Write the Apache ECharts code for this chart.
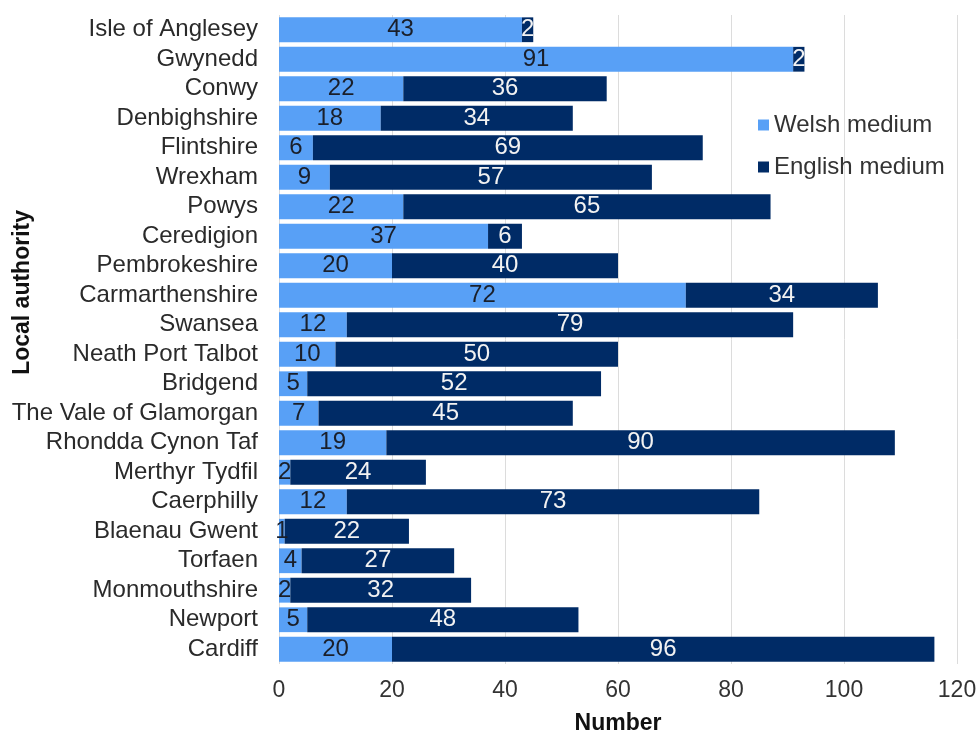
<!DOCTYPE html>
<html>
<head>
<meta charset="utf-8">
<script src="https://cdn.jsdelivr.net/npm/echarts@6/dist/echarts.min.js"></script>
<style>html,body{margin:0;padding:0;background:#fff}#c{width:979px;height:735px}</style>
</head>
<body>
<div id="c"></div>
<script>
const categories = ["Isle of Anglesey","Gwynedd","Conwy","Denbighshire","Flintshire","Wrexham","Powys","Ceredigion","Pembrokeshire","Carmarthenshire","Swansea","Neath Port Talbot","Bridgend","The Vale of Glamorgan","Rhondda Cynon Taf","Merthyr Tydfil","Caerphilly","Blaenau Gwent","Torfaen","Monmouthshire","Newport","Cardiff"];
const welshMedium = [43,91,22,18,6,9,22,37,20,72,12,10,5,7,19,2,12,1,4,2,5,20];
const englishMedium = [2,2,36,34,69,57,65,6,40,34,79,50,52,45,90,24,73,22,27,32,48,96];
const xTicks = [0,20,40,60,80,100,120];

const font = "'Liberation Sans', Arial, sans-serif";
const chart = echarts.init(document.getElementById('c'));
chart.setOption({
  animation: false,
  grid: {left: 279, right: 22, top: 15, bottom: 71, containLabel: false, outerBoundsMode: 'none'},
  legend: {
    orient: 'vertical', left: 753, top: 108, itemGap: 18, itemWidth: 11, itemHeight: 11,
    icon: 'rect',
    textStyle: {fontFamily: font, fontSize: 24, color: '#333', padding: [0,0,0,0]},
    data: ['Welsh medium','English medium']
  },
  xAxis: {
    type: 'value', min: xTicks[0], max: xTicks[xTicks.length-1], interval: 20,
    axisLine: {show: false}, axisTick: {show: false},
    axisLabel: {fontFamily: font, fontSize: 23, color: '#333', margin: 15},
    splitLine: {lineStyle: {color: '#dcdcdc', width: 1}},
    name: 'Number', nameLocation: 'middle', nameGap: 48,
    nameTextStyle: {fontFamily: font, fontSize: 23, fontWeight: 'bold', color: '#111'}
  },
  yAxis: {
    type: 'category', data: categories, inverse: true,
    axisLine: {show: false}, axisTick: {show: false},
    axisLabel: {fontFamily: font, fontSize: 24, color: '#2a2a2a', margin: 21, interval: 0}
  },
  graphic: [{
    type: 'text', left: 11, top: 210, rotation: Math.PI/2,
    style: {text: 'Local authority', font: "bold 23px 'Liberation Sans', Arial, sans-serif", fill: '#111'}
  }],
  series: [
    {
      name: 'Welsh medium', type: 'bar', stack: 'a', data: welshMedium,
      barCategoryGap: '16%',
      itemStyle: {color: '#58a0f6'},
      label: {show: true, position: 'inside', fontFamily: font, fontSize: 24, color: '#1a1f2a'}
    },
    {
      name: 'English medium', type: 'bar', stack: 'a', data: englishMedium,
      barCategoryGap: '16%',
      itemStyle: {color: '#002b66'},
      label: {show: true, position: 'inside', fontFamily: font, fontSize: 24, color: '#f2f2f2'}
    }
  ]
});
</script>
</body>
</html>
